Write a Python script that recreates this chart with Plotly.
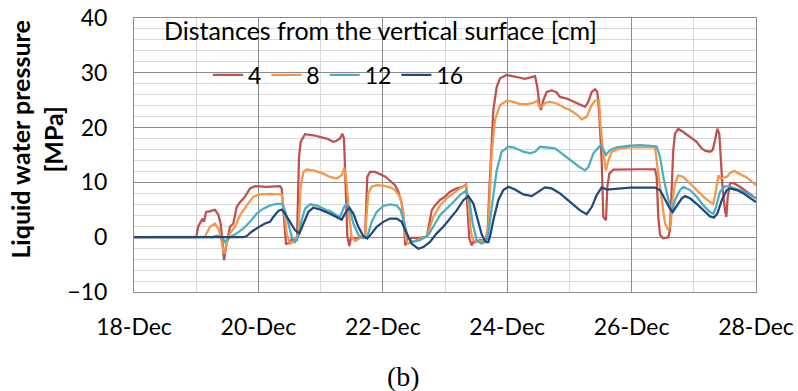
import pandas as pd
import plotly.graph_objects as go

# Time axis: fractional day of December; values in MPa
day_4 = [18.0, 19.0, 19.034, 19.104, 19.125, 19.158, 19.211, 19.302, 19.356, 19.393, 19.426, 19.447,
         19.479, 19.543, 19.597, 19.651, 19.704, 19.785, 19.865, 19.945, 20.133, 20.347, 20.374, 20.412,
         20.444, 20.481, 20.535, 20.62, 20.653, 20.68, 20.749, 20.883, 20.99, 21.098, 21.205, 21.258,
         21.312, 21.349, 21.376, 21.403, 21.43, 21.462, 21.489, 21.553, 21.714, 21.751, 21.794, 21.875,
         21.955, 22.035, 22.116, 22.196, 22.25, 22.304, 22.341, 22.362, 22.394, 22.465, 22.598, 22.706,
         22.748, 22.786, 22.839, 22.92, 23.0, 23.08, 23.188, 23.268, 23.338, 23.359, 23.391, 23.429,
         23.456, 23.51, 23.563, 23.616, 23.68, 23.71, 23.74, 23.777, 23.831, 23.884, 23.992, 24.099,
         24.206, 24.286, 24.367, 24.447, 24.484, 24.516, 24.543, 24.581, 24.635, 24.715, 24.796, 24.849,
         24.957, 25.064, 25.171, 25.251, 25.305, 25.359, 25.412, 25.449, 25.476, 25.519, 25.545, 25.588,
         25.61, 25.642, 25.706, 25.867, 26.135, 26.376, 26.403, 26.429, 26.457, 26.51, 26.59, 26.617,
         26.643, 26.67, 26.698, 26.75, 26.83, 26.939, 27.046, 27.127, 27.18, 27.26, 27.304, 27.341,
         27.378, 27.41, 27.432, 27.465, 27.502, 27.523, 27.545, 27.582, 27.635, 27.743, 27.85, 28.0]
p_4 = [0, 0, 2.0, 3.4, 2.8, 4.6, 4.7, 5.0, 4.1, 2.5, -1.2, -4.2,
       -1.8, 1.9, 2.5, 5.5, 6.4, 7.4, 8.9, 9.3, 9.2, 9.3, 8.9, 2.5,
       -1.2, -1.1, -0.4, -0.5, 14.6, 17.4, 18.8, 18.6, 18.3, 18.0, 17.4, 17.6,
       18.0, 18.9, 18.0, 8.6, 0.1, -1.6, 0.0, -0.2, 0.0, 11.0, 11.9, 11.9,
       11.5, 11.1, 10.3, 9.5, 8.3, 6.2, 2.5, -1.5, -0.3, -0.1, -0.1, 0.1,
       2.5, 4.9, 5.8, 6.8, 7.4, 8.3, 8.9, 9.1, 9.6, 5.5, -0.2, -1.5,
       -0.9, -0.9, -0.5, -0.6, -0.3, 8.0, 16.0, 23.2, 27.4, 29.0, 29.6, 29.4,
       29.1, 28.9, 29.2, 29.4, 27.4, 24.4, 23.2, 25.0, 26.5, 26.8, 26.4, 25.6,
       25.3, 24.7, 24.1, 23.8, 24.7, 26.5, 27.0, 26.5, 23.2, 14.0, 3.7, 3.1,
       9.2, 11.6, 12.35, 12.4, 12.4, 12.4, 11.0, 3.7, 0.4, -0.2, 0.0, 1.3,
       8.6, 15.9, 18.9, 19.8, 19.2, 18.3, 17.4, 16.2, 15.8, 15.6, 15.9, 17.7,
       19.8, 18.9, 14.6, 8.6, 4.9, 3.7, 7.3, 9.8, 9.9, 9.2, 8.3, 7.1]

day_8 = [18.0, 19.12, 19.141, 19.222, 19.302, 19.356, 19.393, 19.436, 19.458, 19.49, 19.543, 19.624,
         19.704, 19.812, 19.918, 20.026, 20.187, 20.374, 20.412, 20.455, 20.508, 20.562, 20.642, 20.68,
         20.723, 20.776, 20.883, 21.044, 21.151, 21.258, 21.339, 21.381, 21.419, 21.462, 21.5, 21.553,
         21.633, 21.714, 21.767, 21.821, 21.902, 22.008, 22.116, 22.196, 22.277, 22.33, 22.373, 22.41,
         22.545, 22.706, 22.759, 22.812, 22.92, 23.027, 23.134, 23.241, 23.338, 23.375, 23.413, 23.445,
         23.51, 23.616, 23.643, 23.696, 23.75, 23.804, 23.884, 23.992, 24.099, 24.206, 24.313, 24.42,
         24.484, 24.516, 24.554, 24.608, 24.688, 24.796, 24.903, 25.01, 25.117, 25.198, 25.278, 25.359,
         25.412, 25.476, 25.503, 25.545, 25.588, 25.626, 25.68, 25.813, 25.974, 26.135, 26.376, 26.429,
         26.484, 26.537, 26.59, 26.628, 26.66, 26.698, 26.75, 26.83, 26.939, 27.046, 27.154, 27.26,
         27.314, 27.357, 27.395, 27.432, 27.474, 27.529, 27.582, 27.646, 27.743, 27.85, 28.0]
p_8 = [0, 0, 0.1, 1.9, 2.5, 1.6, 0.1, -2.4, -3.0, -1.2, 0.7, 1.9,
       4.0, 5.8, 7.4, 7.8, 7.9, 7.8, 4.9, 0.6, -1.2, -0.9, 0.6, 9.2,
       11.9, 12.35, 12.2, 11.6, 11.0, 10.7, 11.3, 12.7, 9.8, 3.7, 0.0, -0.7,
       -0.2, 0.1, 8.0, 9.2, 9.5, 9.4, 9.1, 8.6, 7.4, 4.6, -0.5, -1.2,
       -0.5, 0.1, 1.9, 3.7, 5.8, 7.1, 8.0, 8.9, 9.5, 6.8, 1.3, -0.4,
       -0.9, -0.6, -0.5, 1.9, 15.3, 21.4, 24.1, 24.9, 24.7, 24.3, 24.3, 24.5,
       24.9, 23.8, 23.8, 24.5, 24.7, 24.4, 23.7, 23.2, 22.4, 21.5, 22.0, 24.1,
       24.9, 25.0, 20.1, 15.3, 12.2, 14.0, 15.6, 16.2, 16.4, 16.4, 16.4, 11.6,
       6.8, 2.5, 1.3, 2.2, 6.8, 9.8, 11.3, 11.0, 9.8, 8.6, 7.4, 6.4,
       6.1, 8.6, 11.3, 10.7, 10.9, 11.0, 11.7, 12.1, 11.6, 10.9, 9.5]

day_12 = [18.0, 19.249, 19.33, 19.42, 19.463, 19.49, 19.543, 19.651, 19.758, 19.865, 19.972, 20.079,
          20.187, 20.294, 20.374, 20.428, 20.481, 20.535, 20.588, 20.642, 20.696, 20.749, 20.83, 20.937,
          21.098, 21.151, 21.232, 21.312, 21.376, 21.419, 21.473, 21.526, 21.607, 21.687, 21.751, 21.821,
          21.902, 22.008, 22.116, 22.223, 22.288, 22.341, 22.41, 22.491, 22.598, 22.732, 22.812, 22.92,
          23.08, 23.241, 23.338, 23.391, 23.445, 23.51, 23.59, 23.643, 23.696, 23.75, 23.831, 23.911,
          24.019, 24.099, 24.259, 24.367, 24.447, 24.527, 24.635, 24.769, 24.876, 25.01, 25.144, 25.251,
          25.305, 25.385, 25.466, 25.503, 25.545, 25.588, 25.653, 25.76, 25.974, 26.135, 26.4, 26.457,
          26.51, 26.564, 26.617, 26.65, 26.698, 26.778, 26.83, 26.939, 27.046, 27.154, 27.26, 27.314,
          27.357, 27.421, 27.502, 27.582, 27.743, 27.904, 28.0]
p_12 = [0, 0, 0.3, 0.0, -0.85, -0.6, 0.0, 0.7, 1.6, 2.8, 4.3, 5.2,
        5.8, 6.1, 6.1, 4.9, 2.5, 0.1, -0.85, 0.1, 3.1, 5.2, 6.0, 5.8,
        4.9, 4.8, 4.2, 3.7, 5.5, 6.1, 4.9, 2.5, 0.4, -0.2, 0.1, 2.8,
        4.6, 5.7, 6.0, 5.8, 4.9, 2.5, -0.25, -0.85, -0.55, 0.4, 1.9, 4.0,
        5.8, 7.7, 8.5, 6.8, 2.5, -0.55, -1.2, -0.85, 0.7, 5.5, 12.2, 15.6,
        16.5, 16.4, 15.6, 15.3, 15.6, 16.5, 16.4, 16.2, 15.3, 14.05, 12.95, 12.2,
        12.8, 15.3, 16.2, 16.8, 16.0, 15.0, 15.9, 16.4, 16.7, 16.8, 16.6, 14.65,
        11.0, 8.0, 5.5, 4.8, 6.8, 8.6, 9.2, 8.6, 7.4, 5.8, 4.6, 4.3,
        5.5, 8.3, 9.3, 9.2, 8.6, 7.7, 7.1]

day_16 = [18.0, 19.758, 19.812, 19.892, 19.998, 20.106, 20.187, 20.24, 20.32, 20.374, 20.428, 20.508,
          20.588, 20.658, 20.723, 20.803, 20.883, 20.99, 21.151, 21.258, 21.339, 21.392, 21.462, 21.526,
          21.607, 21.687, 21.751, 21.821, 21.902, 22.008, 22.116, 22.223, 22.304, 22.384, 22.465, 22.572,
          22.652, 22.759, 22.866, 22.973, 23.08, 23.188, 23.295, 23.375, 23.456, 23.536, 23.59, 23.643,
          23.67, 23.696, 23.723, 23.777, 23.857, 23.938, 24.019, 24.125, 24.259, 24.394, 24.5, 24.608,
          24.715, 24.849, 25.01, 25.171, 25.278, 25.359, 25.439, 25.519, 25.6, 25.76, 25.974, 26.135,
          26.376, 26.457, 26.537, 26.617, 26.66, 26.724, 26.805, 26.859, 26.939, 27.046, 27.154, 27.26,
          27.325, 27.378, 27.45, 27.529, 27.582, 27.69, 27.797, 27.904, 28.0]
p_16 = [0, 0, 0.2, 1.0, 1.8, 2.5, 2.8, 3.7, 4.8, 5.05, 4.3, 2.8,
        1.3, 0.7, 2.5, 4.6, 5.4, 5.05, 4.3, 3.6, 3.2, 4.3, 5.4, 4.3,
        1.9, 0.2, -0.25, 0.7, 1.9, 2.8, 3.4, 3.4, 2.8, 0.7, -1.2, -2.1,
        -1.8, -0.85, 0.7, 1.9, 3.4, 4.9, 6.75, 7.5, 6.15, 2.5, 0.5, -0.7,
        -0.9, -0.9, 0.1, 3.1, 6.75, 8.6, 9.2, 8.7, 7.8, 7.5, 8.3, 9.1,
        8.9, 8.0, 6.45, 4.9, 4.2, 5.5, 7.7, 9.1, 8.7, 8.9, 9.05, 9.05,
        9.05, 8.6, 6.75, 5.2, 4.6, 5.8, 7.06, 7.5, 7.1, 6.1, 4.9, 3.8,
        3.6, 4.3, 6.75, 8.6, 8.9, 8.6, 8.0, 7.1, 6.4]

series_names = ["4", "8", "12", "16"]
series_colors = ["#C0504D", "#F79646", "#4BACC6", "#1F497D"]
x_tick_labels = ["18-Dec", "20-Dec", "22-Dec", "24-Dec", "26-Dec", "28-Dec"]

month_start = pd.Timestamp("2014-12-01")


def to_dates(days):
    return [month_start + pd.Timedelta(days=d - 1) for d in days]


FONT = "Lato"
MAJOR = "#8c8c8c"
MINOR = "#d9d9d9"

fig = go.Figure()
for days, vals, name, color in zip([day_4, day_8, day_12, day_16], [p_4, p_8, p_12, p_16],
                                   series_names, series_colors):
    fig.add_trace(go.Scatter(x=to_dates(days), y=vals, name=name, mode="lines",
                             line=dict(color=color, width=2.25)))

tick_dates = [month_start + pd.Timedelta(days=17 + 2 * i) for i in range(len(x_tick_labels))]

fig.update_layout(
    width=798, height=391,
    margin=dict(l=134, r=42, t=18, b=99, autoexpand=False),
    paper_bgcolor="white", plot_bgcolor="white",
    font=dict(family=FONT, size=23, color="black"),
    showlegend=True,
    legend=dict(orientation="h", x=0.119, xanchor="left", y=0.792, yanchor="middle",
                bgcolor="rgba(0,0,0,0)", font=dict(family=FONT, size=23),
                itemwidth=30),
    xaxis=dict(
        type="date", automargin=False,
        range=[tick_dates[0], tick_dates[-1]],
        tickmode="array", tickvals=tick_dates, ticktext=x_tick_labels,
        showgrid=True, gridcolor=MAJOR, gridwidth=1,
        minor=dict(dtick=86400000, tick0=tick_dates[0], showgrid=True, gridcolor=MINOR, gridwidth=1),
        showline=True, linecolor=MAJOR, mirror=True, zeroline=False,
        ticks="", ticklabelstandoff=14,
        tickfont=dict(family=FONT, size=23),
    ),
    yaxis=dict(
        automargin=False,
        range=[-10, 40], dtick=10, tick0=0,
        showgrid=True, gridcolor=MAJOR, gridwidth=1,
        minor=dict(dtick=2, showgrid=True, gridcolor=MINOR, gridwidth=1),
        showline=True, linecolor=MAJOR, mirror=True, zeroline=False,
        ticks="", ticklabelstandoff=21,
        tickfont=dict(family=FONT, size=23),
    ),
)

fig.add_annotation(text="Distances from the vertical surface [cm]", xref="paper", yref="paper",
                   x=0.0450, y=0.956, xanchor="left", yanchor="middle", showarrow=False,
                   font=dict(family=FONT, size=25))
fig.add_annotation(text="<b>Liquid water pressure<br>[MPa]</b>", xref="paper", yref="paper",
                   x=-0.156, y=0.556, xanchor="center", yanchor="middle", textangle=-90,
                   showarrow=False, font=dict(family=FONT, size=25))
fig.add_annotation(text="(b)", xref="paper", yref="paper", x=0.4325, y=-0.3066,
                   xanchor="center", yanchor="middle", showarrow=False,
                   font=dict(family="Liberation Serif", size=28))

fig.write_html("out.html")
